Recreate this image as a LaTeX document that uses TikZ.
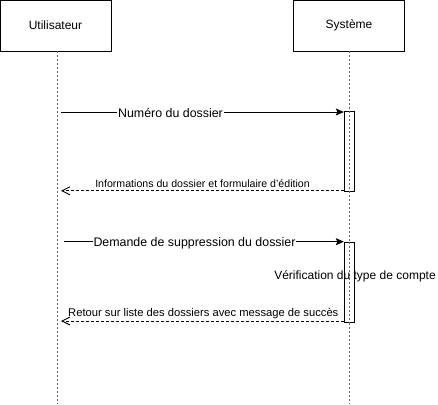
\documentclass[tikz,border=0pt]{standalone}
\usepackage{fontspec}
\setmainfont{Liberation Sans}
\usetikzlibrary{arrows.meta}
\begin{document}
\begin{tikzpicture}[x=1pt,y=-1pt,
  actor/.style={draw,line width=0.9pt,minimum width=111pt,minimum height=51pt,inner sep=0pt,font=\fontsize{12}{14}\selectfont},
  act/.style={draw,fill=white,line width=0.9pt,minimum width=10pt,inner sep=0pt},
  life/.style={draw=black!60,line width=0.7pt,dash pattern=on 2pt off 2pt},
  msg/.style={line width=0.9pt,-{Stealth[length=8pt,width=7pt,inset=1.5pt]}},
  ret/.style={line width=0.9pt,dash pattern=on 3pt off 2pt,-{Straight Barb[length=8pt,width=8pt]}},
  biglab/.style={font=\fontsize{12.4}{14}\selectfont,inner sep=1pt},
  smalllab/.style={font=\fontsize{10.6}{12}\selectfont,inner sep=0pt}]
\useasboundingbox (0,0) rectangle (438,404);
\node[actor] (u) at (55.5,25.5) {Utilisateur};
\node[actor] (s) at (349,25.5) {Système};
\coordinate (uend) at (57,404);
\coordinate (send) at (349,404);
\draw[life] (57,51) -- (uend);
\draw[life] (349,51) -- (send);
\node[act,minimum height=80pt,anchor=north] (a1) at (349.3,111) {};
\node[act,minimum height=80pt,anchor=north] (a2) at (349.3,241.5) {};
\draw[life] (a1.north) -- (a1.south);
\draw[life] (a2.north) -- (a2.south);
% message 1
\coordinate (m1s) at (61,112);
\draw[msg] (m1s) -- (a1.north west |- m1s);
\node[biglab,fill=white] (l1) at (170.5,113) {Numéro du dossier};
% return 1
\coordinate (r1e) at (61,190.8);
\draw[ret] (a1.south west |- r1e) -- (r1e);
\node[smalllab] (l2) at (202.5,184) {Informations du dossier et formulaire d'édition};
% message 2
\coordinate (m2s) at (64,241.7);
\draw[msg] (m2s) -- (a2.north west |- m2s);
\node[biglab,fill=white] (l3) at (194.5,243.5) {Demande de suppression du dossier};
\node[biglab,font=\fontsize{12}{14}\selectfont] (l4) at (355,276) {Vérification du type de compte};
% return 2
\coordinate (r2e) at (61,321);
\draw[ret] (a2.south west |- r2e) -- (r2e);
\node[smalllab,font=\fontsize{11.2}{13}\selectfont] (l5) at (203.3,314) {Retour sur liste des dossiers avec message de succès};
\end{tikzpicture}
\end{document}
